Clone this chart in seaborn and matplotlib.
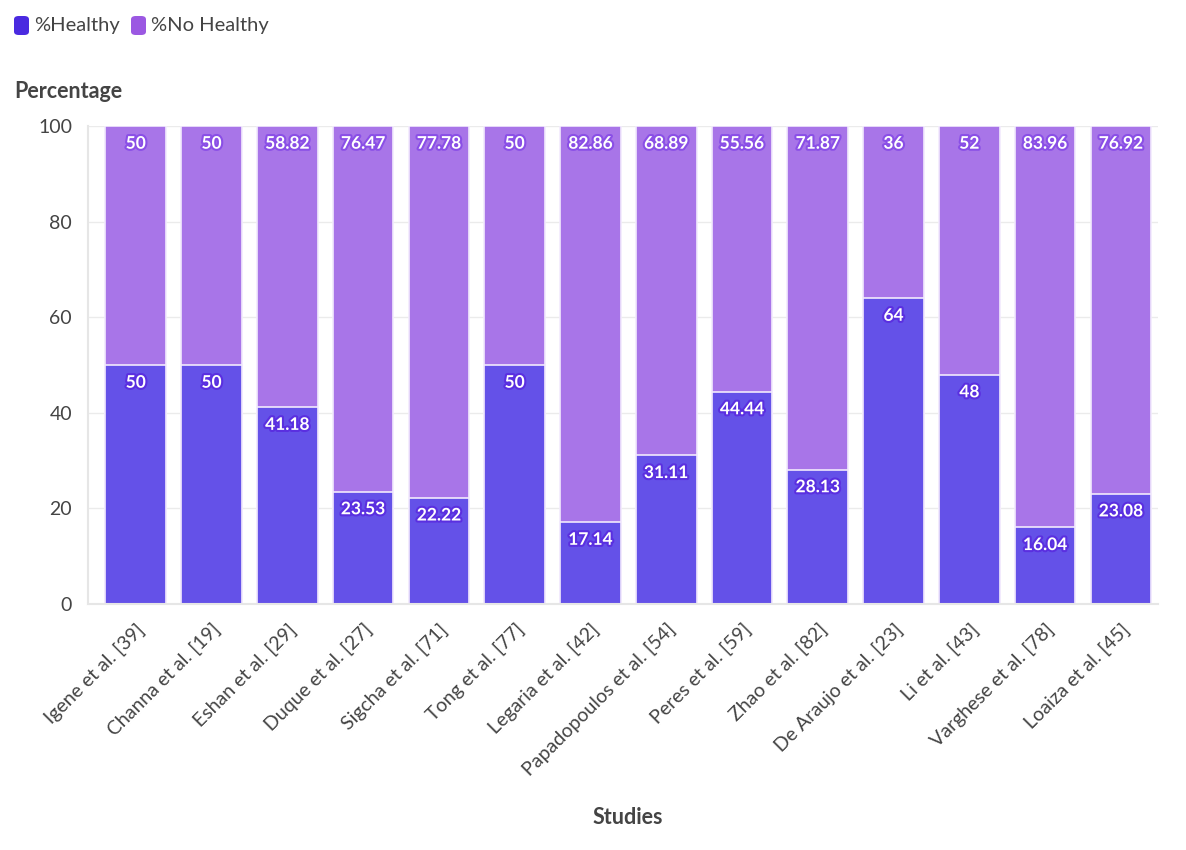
import pandas as pd
import matplotlib.pyplot as plt
import matplotlib.patheffects as pe
from matplotlib.patches import FancyBboxPatch
import seaborn as sns

# Dados do grafico
studies = ['Igene et al. [39]', 'Channa et al. [19]', 'Eshan et al. [29]', 'Duque et al. [27]',
           'Sigcha et al. [71]', 'Tong et al. [77]', 'Legaria et al. [42]', 'Papadopoulos et al. [54]',
           'Peres et al. [59]', 'Zhao et al. [82]', 'De Araujo et al. [23]', 'Li et al. [43]',
           'Varghese et al. [78]', 'Loaiza et al. [45]']
healthy = [50, 50, 41.18, 23.53, 22.22, 50, 17.14, 31.11, 44.44, 28.13, 64, 48, 16.04, 23.08]
no_healthy = [50, 50, 58.82, 76.47, 77.78, 50, 82.86, 68.89, 55.56, 71.87, 36, 52, 83.96, 76.92]

COLOR_H = '#6451e8'
COLOR_NH = '#a875e8'
LEG_H = '#4a2ae0'
LEG_NH = '#9b58e2'
TEXT = '#444444'

df = pd.DataFrame({'Study': studies, 'Healthy': healthy, 'NoHealthy': no_healthy})
df['Total'] = df['Healthy'] + df['NoHealthy']

sns.set_theme(style='white')
plt.rcParams['font.family'] = ['Lato', 'DejaVu Sans']

fig = plt.figure(figsize=(11.86, 8.5), dpi=100)
ax = fig.add_axes([0.0742, 0.2894, 0.9022, 0.5624])

sns.barplot(data=df, x='Study', y='Total', color=COLOR_NH, width=0.8,
            edgecolor='#f2eafd', linewidth=1.2, saturation=1, ax=ax)
sns.barplot(data=df, x='Study', y='Healthy', color=COLOR_H, width=0.8,
            edgecolor='#f2eafd', linewidth=1.2, saturation=1, ax=ax)

# Rotulos dentro das barras
stroke = [pe.withStroke(linewidth=3, foreground='#5a2fe0')]
for i, (h, nh) in enumerate(zip(healthy, no_healthy)):
    ax.annotate(f'{nh:g}', (i, h + nh), xytext=(0, -7), textcoords='offset points',
                ha='center', va='top', color='white', fontsize=12.5, fontweight='bold',
                path_effects=[pe.withStroke(linewidth=3, foreground='#8a4fe6')])
    ax.annotate(f'{h:g}', (i, h), xytext=(0, -7), textcoords='offset points',
                ha='center', va='top', color='white', fontsize=12.5, fontweight='bold',
                path_effects=stroke)

ax.set_ylim(0, 100)
ax.set_xlim(-0.63, 13.49)
ax.set_yticks([0, 20, 40, 60, 80, 100])
ax.yaxis.grid(True, color='#ebebeb', linewidth=1)
ax.set_axisbelow(True)
for s in ['top', 'right']:
    ax.spines[s].set_visible(False)
ax.spines['left'].set_color('#e6e6e6')
ax.spines['bottom'].set_color('#e6e6e6')
ax.spines['left'].set_linewidth(1.5)
ax.spines['bottom'].set_linewidth(1.5)
ax.tick_params(axis='both', colors='#e0e0e0', length=8, width=1.5, labelcolor=TEXT, labelsize=14)
ax.tick_params(axis='x', pad=4)
plt.setp(ax.get_xticklabels(), rotation=45, ha='right', rotation_mode='anchor')

ax.set_xlabel('')
ax.set_ylabel('')
fig.text(628 / 1186, 1 - 817 / 850, 'Studies', ha='center', va='center',
         fontsize=15.5, fontweight='bold', color=TEXT)
fig.text(14 / 1186, 1 - 92 / 850, 'Percentage', ha='left', va='center',
         fontsize=15.5, fontweight='bold', color=TEXT)

# Legenda manual no topo
for x0, col, lab in [(14, LEG_H, '%Healthy'), (131, LEG_NH, '%No Healthy')]:
    fig.patches.append(FancyBboxPatch((x0 / 1186, 1 - 35 / 850), 15 / 1186, 19 / 850,
                                      boxstyle='round,pad=0,rounding_size=0.004',
                                      transform=fig.transFigure, facecolor=col, edgecolor='none'))
    fig.text((x0 + 20) / 1186, 1 - 26 / 850, lab, ha='left', va='center',
             fontsize=14.5, color=TEXT)

fig.savefig('out.png', dpi=100)
